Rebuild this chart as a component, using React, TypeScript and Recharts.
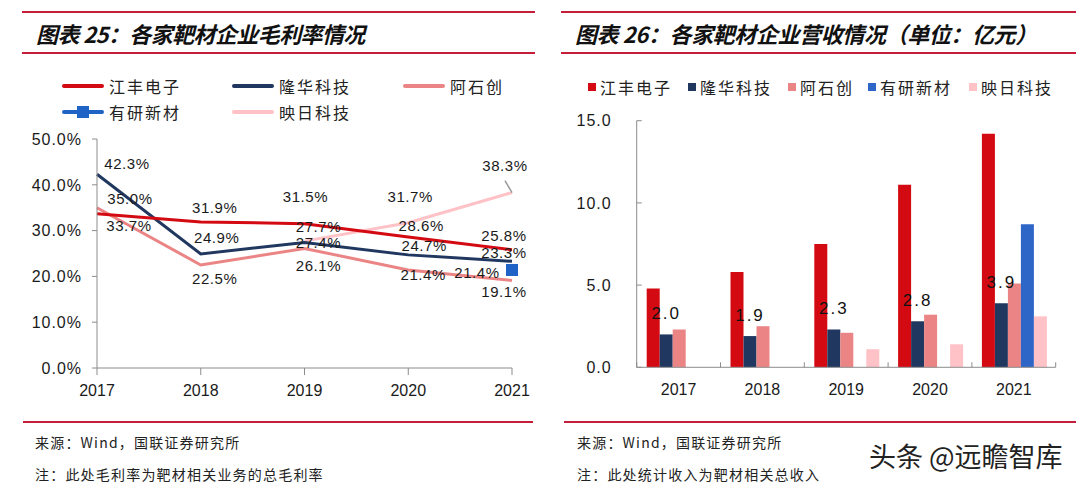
import React from 'react';
import { LineChart, Line, XAxis, YAxis, BarChart, Bar, LabelList } from 'recharts';

// 年份
const years = ['2017', '2018', '2019', '2020', '2021'];

// 图表25 毛利率 (%)
const jiangfengMargin = [33.7, 31.9, 31.5, 28.6, 25.8];
const longhuaMargin = [42.3, 24.9, 27.4, 24.7, 23.3];
const ashichuangMargin = [35.0, 22.5, 26.1, 21.4, 19.1];
const youyanMargin = [null, null, null, null, 21.4];
const yingriMargin = [null, null, 27.7, 31.7, 38.3];
const marginTicks = [0, 10, 20, 30, 40, 50];

// 图表26 营收 (亿元)
const jiangfengRevenue = [4.8, 5.8, 7.5, 11.1, 14.2];
const longhuaRevenue = [2.0, 1.9, 2.3, 2.8, 3.9];
const ashichuangRevenue = [2.3, 2.5, 2.1, 3.2, 5.1];
const youyanRevenue = [null, null, null, null, 8.7];
const yingriRevenue = [null, null, 1.1, 1.4, 3.1];
const revenueTicks = [0, 5, 10, 15];

const marginData = years.map((year, i) => ({
  year,
  jf: jiangfengMargin[i],
  lh: longhuaMargin[i],
  asc: ashichuangMargin[i],
  yy: youyanMargin[i],
  yr: yingriMargin[i],
}));

const revenueData = years.map((year, i) => ({
  year,
  jf: jiangfengRevenue[i],
  lh: longhuaRevenue[i],
  asc: ashichuangRevenue[i],
  yy: youyanRevenue[i],
  yr: yingriRevenue[i],
}));

const CJK = '"Noto Sans CJK SC", sans-serif';
const NUM = '"Liberation Sans", Arial, sans-serif';

const C = {
  red: '#D40A12',
  navy: '#20375F',
  salmon: '#EB8585',
  blue: '#2E66C8',
  marker: '#1F63C6',
  pink: '#FFC2C7',
  rule: '#C41E3A',
  axis: '#8C8C8C',
  text: '#1A1A1A',
};

// label offsets (dx, dy) from each point, as placed in the original
const jfLabelPos = [[32, 12], [14, -14], [1, -27], [13, -11], [-8, -14]];
const lhLabelPos = [[30, -11], [16, -16], [14, 0], [16, -9], [-8, -9]];
const ascLabelPos = [[33, -9], [14, 14], [14, 17], [15, 5], [-8, 11]];
const yyLabelPos = [[0, 0], [0, 0], [0, 0], [0, 0], [-35, 3]];
const yrLabelPos = [[0, 0], [0, 0], [14, -15], [2, -26], [-7, -27]];

const LEFT_W = 540;
const LEFT_PLOT_L = 97;
const LEFT_PLOT_R = 512;

const lineLabel = (pos: number[][], leaderAt?: number) => (p: any) => {
  const { x, y, value } = p;
  if (value == null || x == null || y == null) return null;
  const step = (LEFT_PLOT_R - LEFT_PLOT_L) / (years.length - 1);
  const index = p.index != null ? p.index : Math.round((x - LEFT_PLOT_L) / step);
  const [dx, dy] = pos[index] || [0, 0];
  return (
    <g key={`lbl-${index}`}>
      {leaderAt === index && (
        <line x1={x - 7} y1={y - 12} x2={x} y2={y} stroke="#9A9A9A" strokeWidth={1.5} />
      )}
      <text
        x={x + dx}
        y={y + dy}
        dy="0.36em"
        textAnchor="middle"
        fontSize={15}
        letterSpacing={0.6}
        fontFamily={NUM}
        fill={C.text}
      >
        {`${Number(value).toFixed(1)}%`}
      </text>
    </g>
  );
};

const LeftXTick = (props: any) => {
  const { x, y, payload } = props;
  return (
    <g>
      <line x1={x} y1={y} x2={x} y2={y + 7} stroke={C.axis} />
      <text x={x} y={y + 28} textAnchor="middle" fontSize={16} fontFamily={NUM} fill={C.text}>
        {payload.value}
      </text>
    </g>
  );
};

const LeftYTick = (props: any) => {
  const { x, y, payload } = props;
  return (
    <g>
      <line x1={x - 5} y1={y} x2={x} y2={y} stroke={C.axis} />
      <text x={x - 15} y={y} dy="0.36em" textAnchor="end" fontSize={16} letterSpacing={1} fontFamily={NUM} fill={C.text}>
        {`${Number(payload.value).toFixed(1)}%`}
      </text>
    </g>
  );
};

const RIGHT_BAND = (515.7 - 96.7) / years.length;

const RightXTick = (props: any) => {
  const { x, y, payload, index } = props;
  const last = index === years.length - 1;
  return (
    <g>
      <line x1={x - RIGHT_BAND / 2} y1={y} x2={x - RIGHT_BAND / 2} y2={y - 5} stroke={C.axis} />
      {last && <line x1={x + RIGHT_BAND / 2} y1={y} x2={x + RIGHT_BAND / 2} y2={y - 5} stroke={C.axis} />}
      <text x={x} y={y + 28} textAnchor="middle" fontSize={16} fontFamily={NUM} fill={C.text}>
        {payload.value}
      </text>
    </g>
  );
};

const RightYTick = (props: any) => {
  const { x, y, payload } = props;
  return (
    <g>
      <line x1={x} y1={y} x2={x + 5} y2={y} stroke={C.axis} />
      <text x={x - 25} y={y} dy="0.36em" textAnchor="end" fontSize={16} letterSpacing={1} fontFamily={NUM} fill={C.text}>
        {Number(payload.value).toFixed(1)}
      </text>
    </g>
  );
};

const squareDot = (p: any) => {
  const { cx, cy, index } = p;
  if (cx == null || cy == null || p.value == null) return <g key={`sq-${index}`} />;
  return <rect key={`sq-${index}`} x={cx - 6} y={cy - 6} width={12} height={12} fill={C.marker} />;
};

const Rule = ({ left, width, top }: { left: number; width: number; top: number }) => (
  <div style={{ position: 'absolute', left, top, width, height: 2, background: C.rule }} />
);

const Title = ({ left, text, spacing }: { left: number; text: string; spacing: number }) => (
  <div
    style={{
      position: 'absolute',
      left,
      top: 20,
      fontSize: 22,
      lineHeight: '26px',
      fontWeight: 700,
      fontStyle: 'italic',
      letterSpacing: spacing,
      color: '#111',
      fontFamily: CJK,
      whiteSpace: 'nowrap',
    }}
  >
    {text}
  </div>
);

const legendText: React.CSSProperties = {
  position: 'absolute',
  fontSize: 16,
  lineHeight: '20px',
  letterSpacing: 2,
  color: '#222',
  fontFamily: CJK,
  whiteSpace: 'nowrap',
};

const LineKey = ({ x, y, color, label, square }: { x: number; y: number; color: string; label: string; square?: boolean }) => (
  <>
    <div style={{ position: 'absolute', left: x, top: y - 2, width: 42, height: 4, background: color, borderRadius: 2 }} />
    {square && <div style={{ position: 'absolute', left: x + 15, top: y - 6, width: 12, height: 12, background: color }} />}
    <div style={{ ...legendText, left: x + 47, top: y - 10 }}>{label}</div>
  </>
);

const BoxKey = ({ x, y, color, label }: { x: number; y: number; color: string; label: string }) => (
  <>
    <div style={{ position: 'absolute', left: x, top: y - 4, width: 8, height: 8, background: color }} />
    <div style={{ ...legendText, left: x + 12, top: y - 10 }}>{label}</div>
  </>
);

const footText: React.CSSProperties = {
  position: 'absolute',
  fontSize: 14,
  lineHeight: '18px',
  letterSpacing: 1.2,
  color: '#222',
  fontFamily: CJK,
  whiteSpace: 'nowrap',
};

export default function App() {
  return (
    <div style={{ position: 'absolute', left: 0, top: 0, width: 1080, height: 489, background: '#fff', overflow: 'hidden' }}>
      {/* 左：毛利率 */}
      <Rule left={22} width={513} top={11} />
      <Title left={36} text="图表 25：各家靶材企业毛利率情况" spacing={-0.6} />
      <Rule left={22} width={513} top={52} />

      <LineKey x={62} y={86} color={C.red} label="江丰电子" />
      <LineKey x={232} y={86} color={C.navy} label="隆华科技" />
      <LineKey x={403} y={86} color={C.salmon} label="阿石创" />
      <LineKey x={62} y={112} color={C.marker} label="有研新材" square />
      <LineKey x={232} y={112} color={C.pink} label="映日科技" />

      <div style={{ position: 'absolute', left: 0, top: 0 }}>
        <LineChart width={LEFT_W} height={420} data={marginData} margin={{ top: 139, right: LEFT_W - LEFT_PLOT_R, left: 0, bottom: 0 }}>
          <XAxis
            dataKey="year"
            stroke={C.axis}
            tickLine={false}
            tickSize={0}
            tickMargin={0}
            height={52}
            interval={0}
            tick={<LeftXTick />}
          />
          <YAxis
            domain={[0, 50]}
            ticks={marginTicks}
            stroke={C.axis}
            tickLine={false}
            tickSize={0}
            tickMargin={0}
            width={LEFT_PLOT_L}
            tick={<LeftYTick />}
          />
          <Line dataKey="yr" stroke={C.pink} strokeWidth={3} dot={false} isAnimationActive={false}>
            <LabelList dataKey="yr" content={lineLabel(yrLabelPos, 4)} />
          </Line>
          <Line dataKey="asc" stroke={C.salmon} strokeWidth={3} dot={false} isAnimationActive={false}>
            <LabelList dataKey="asc" content={lineLabel(ascLabelPos)} />
          </Line>
          <Line dataKey="lh" stroke={C.navy} strokeWidth={3} dot={false} isAnimationActive={false}>
            <LabelList dataKey="lh" content={lineLabel(lhLabelPos)} />
          </Line>
          <Line dataKey="jf" stroke={C.red} strokeWidth={3} dot={false} isAnimationActive={false}>
            <LabelList dataKey="jf" content={lineLabel(jfLabelPos)} />
          </Line>
          <Line dataKey="yy" stroke="transparent" strokeWidth={0} dot={squareDot} activeDot={false} isAnimationActive={false}>
            <LabelList dataKey="yy" content={lineLabel(yyLabelPos)} />
          </Line>
        </LineChart>
      </div>

      {/* 右：营收 */}
      <Rule left={561} width={515} top={11} />
      <Title left={575} text="图表 26：各家靶材企业营收情况（单位：亿元）" spacing={-0.4} />
      <Rule left={561} width={515} top={52} />

      <BoxKey x={588} y={87} color={C.red} label="江丰电子" />
      <BoxKey x={688} y={87} color={C.navy} label="隆华科技" />
      <BoxKey x={788} y={87} color={C.salmon} label="阿石创" />
      <BoxKey x={868} y={87} color={C.blue} label="有研新材" />
      <BoxKey x={969} y={87} color={C.pink} label="映日科技" />

      <div style={{ position: 'absolute', left: 540, top: 0 }}>
        <BarChart
          width={540}
          height={420}
          data={revenueData}
          margin={{ top: 120.7, right: 24.3, left: 0, bottom: 0 }}
          barCategoryGap={10}
          barGap={0}
        >
          <XAxis
            dataKey="year"
            stroke={C.axis}
            tickLine={false}
            tickSize={0}
            tickMargin={0}
            height={52.7}
            interval={0}
            tick={<RightXTick />}
          />
          <YAxis
            domain={[0, 15]}
            ticks={revenueTicks}
            stroke={C.axis}
            tickLine={false}
            tickSize={0}
            tickMargin={0}
            width={96.7}
            tick={<RightYTick />}
          />
          <Bar dataKey="jf" fill={C.red} isAnimationActive={false} />
          <Bar dataKey="lh" fill={C.navy} isAnimationActive={false}>
            <LabelList
              dataKey="lh"
              position="top"
              offset={15}
              formatter={(v: any) => Number(v).toFixed(1)}
              style={{ fontSize: 17, letterSpacing: 2, fontFamily: NUM, fill: '#111' }}
            />
          </Bar>
          <Bar dataKey="asc" fill={C.salmon} isAnimationActive={false} />
          <Bar dataKey="yy" fill={C.blue} isAnimationActive={false} />
          <Bar dataKey="yr" fill={C.pink} isAnimationActive={false} />
        </BarChart>
      </div>

      {/* 底部 */}
      <Rule left={23} width={510} top={421} />
      <Rule left={564} width={512} top={421} />
      <div style={{ ...footText, left: 35, top: 433 }}>来源：Wind，国联证券研究所</div>
      <div style={{ ...footText, left: 35, top: 465 }}>注：此处毛利率为靶材相关业务的总毛利率</div>
      <div style={{ ...footText, left: 577, top: 433 }}>来源：Wind，国联证券研究所</div>
      <div style={{ ...footText, left: 577, top: 465 }}>注：此处统计收入为靶材相关总收入</div>
      <div
        style={{
          position: 'absolute',
          left: 869,
          top: 440,
          fontSize: 27,
          lineHeight: '32px',
          color: '#222',
          fontFamily: CJK,
          whiteSpace: 'nowrap',
          textShadow: '0 0 2px #fff',
        }}
      >
        头条 @远瞻智库
      </div>
    </div>
  );
}
